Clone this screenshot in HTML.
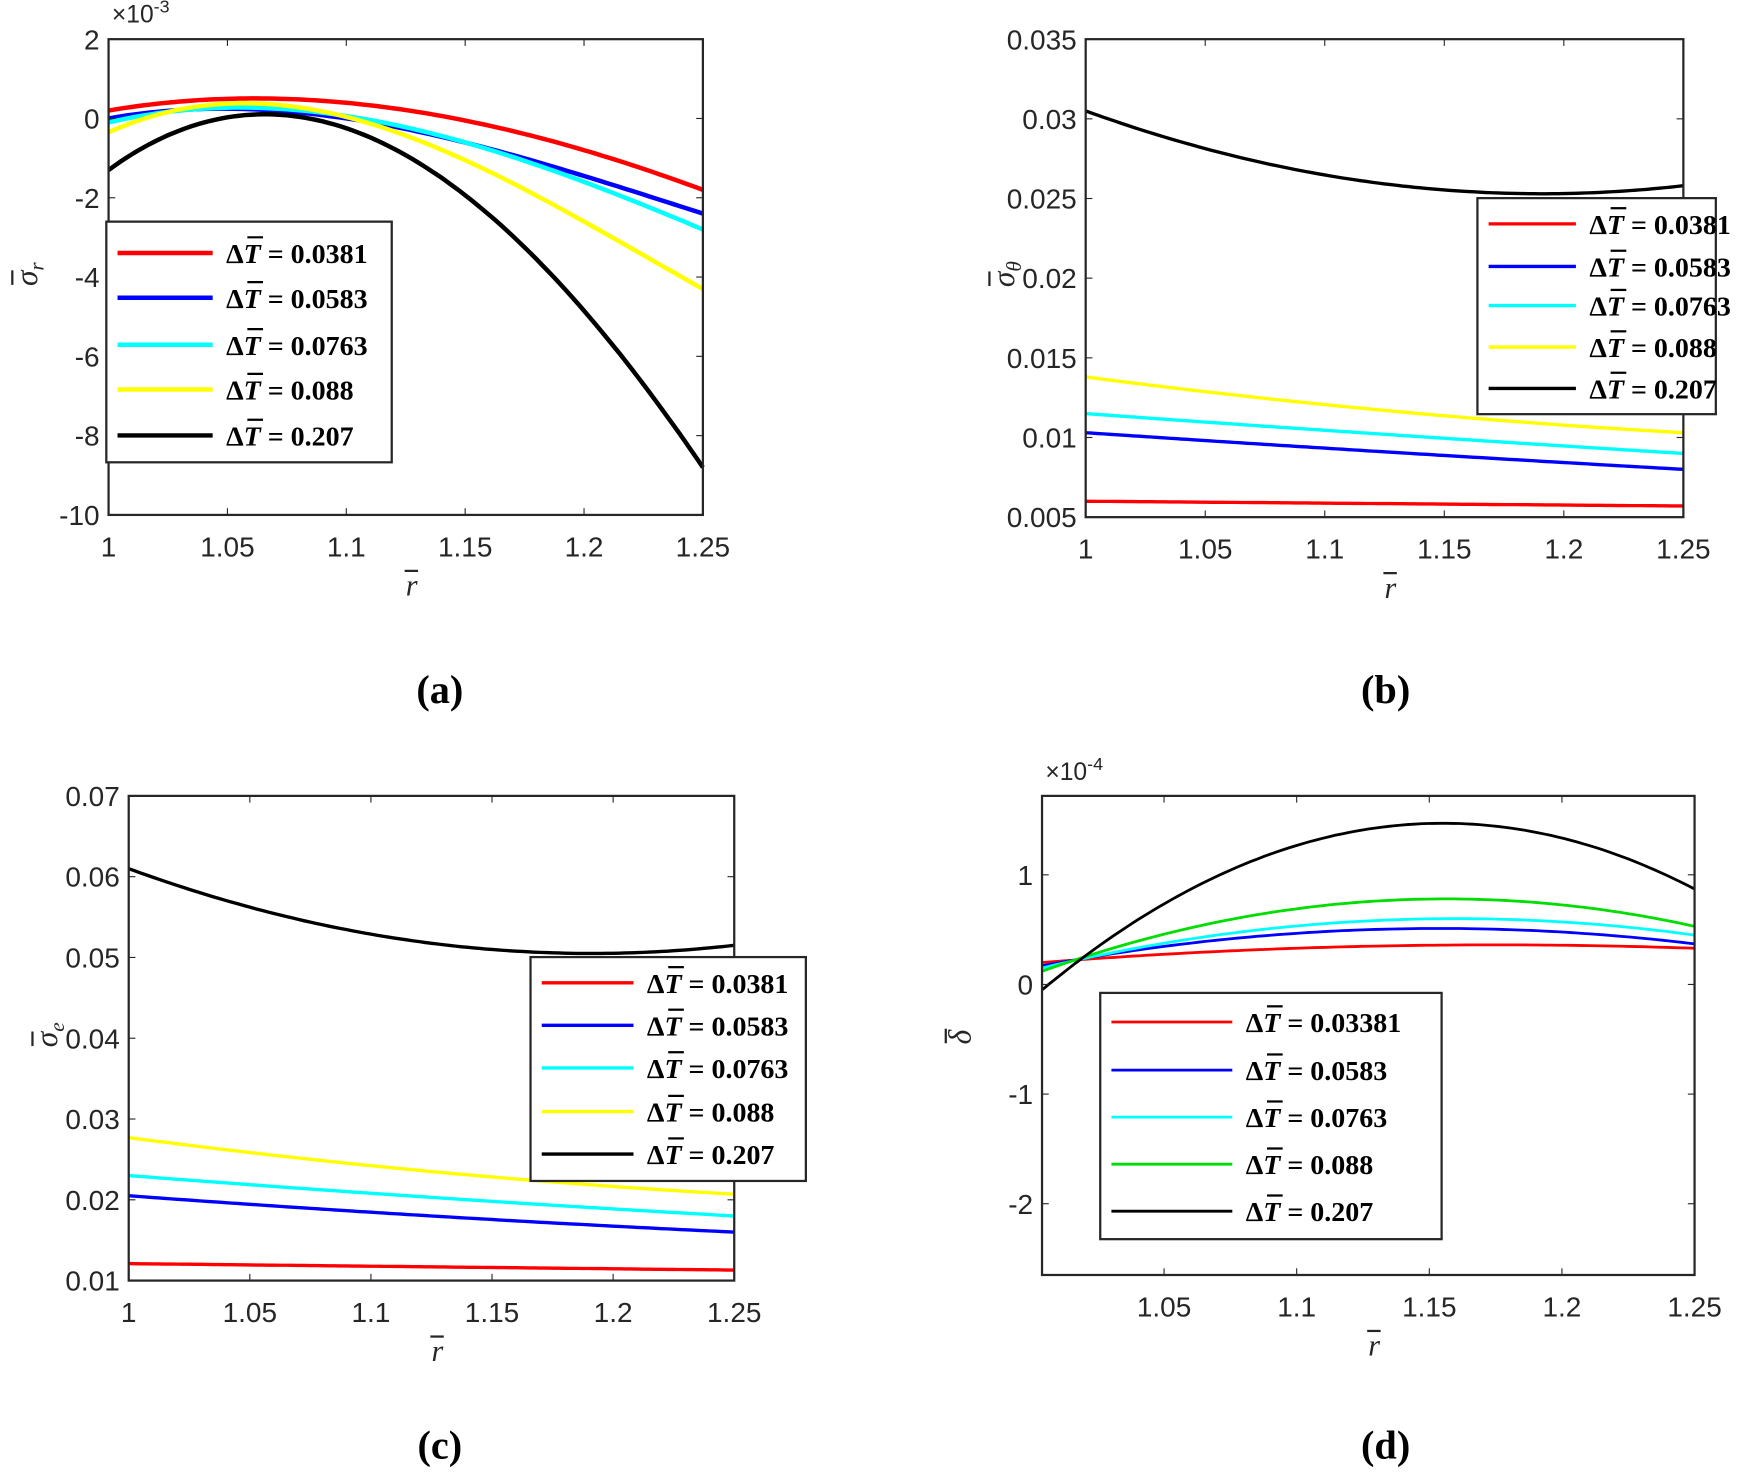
<!DOCTYPE html>
<html><head><meta charset="utf-8"><style>
html,body{margin:0;padding:0;background:#fff;}
svg{display:block}
.t{font-family:"Liberation Sans",sans-serif;font-size:25px;fill:#262626}
.l{font-family:"Liberation Serif",serif;font-size:25px;fill:#000;font-weight:bold}
.c{font-family:"Liberation Serif",serif;font-size:36px;font-weight:bold;fill:#000}
</style></head><body>
<svg id="s" width="1755" height="1472" viewBox="0 0 1568 1315" preserveAspectRatio="none" xmlns="http://www.w3.org/2000/svg"></svg>
<script>
const S=document.getElementById('s');let h='';
function lag(p){return x=>{let s=0;for(let i=0;i<p.length;i++){let t=p[i][1];for(let j=0;j<p.length;j++)if(j!=i)t*=(x-p[j][0])/(p[i][0]-p[j][0]);s+=t;}return s;}}
function panel(o){
 const X=r=>o.x0+(r-o.r0)/(o.r1-o.r0)*(o.x1-o.x0);
 const Y=v=>o.y1-(v-o.v0)/(o.v1-o.v0)*(o.y1-o.y0);
 o.curves.forEach(c=>{const f=lag(c.p);let d='';for(let i=0;i<=100;i++){const r=o.r0+(o.r1-o.r0)*i/100;d+=(i?'L':'M')+X(r).toFixed(1)+','+Y(f(r)).toFixed(1);}
  h+=`<path d="${d}" fill="none" stroke="${c.c}" stroke-width="${o.sw}"/>`;});
 h+=`<rect x="${o.x0}" y="${o.y0}" width="${o.x1-o.x0}" height="${o.y1-o.y0}" fill="none" stroke="#262626" stroke-width="2"/>`;
 o.yt.forEach(t=>{const y=Y(t[0]);h+=`<line x1="${o.x0}" x2="${o.x0+6}" y1="${y}" y2="${y}" stroke="#262626"/><line x1="${o.x1}" x2="${o.x1-6}" y1="${y}" y2="${y}" stroke="#262626"/><text class="t" x="${o.x0-8}" y="${y+9}" text-anchor="end">${t[1]}</text>`;});
 o.xt.forEach(t=>{const x=X(t);h+=`<line x1="${x}" x2="${x}" y1="${o.y1}" y2="${o.y1-6}" stroke="#262626"/><line x1="${x}" x2="${x}" y1="${o.y0}" y2="${o.y0+6}" stroke="#262626"/><text class="t" x="${x}" y="${o.y1+37}" text-anchor="middle">${t}</text>`;});
 const L=o.leg;h+=`<rect x="${L.x}" y="${L.y}" width="${L.w}" height="${L.h}" fill="#fff" stroke="#262626" stroke-width="2"/>`;
 L.e.forEach((e,i)=>{const y=L.ys[i];h+=`<line x1="${L.x+10}" x2="${L.x+L.lw}" y1="${y}" y2="${y}" stroke="${o.curves[i].c}" stroke-width="${o.sw}"/><text class="l" x="${L.x+L.lw+12}" y="${y+9}">Δ<tspan font-style="italic">T</tspan> = ${e}</text><line x1="${L.x+L.lw+31}" x2="${L.x+L.lw+45}" y1="${y-14}" y2="${y-14}" stroke="#000" stroke-width="2"/>`;});
 const cx=(o.x0+o.x1)/2;
 h+=`<text x="${cx}" y="${o.y1+72}" style="font-family:'Liberation Serif',serif;font-style:italic;font-size:27px;fill:#262626">r</text><line x1="${cx-1}" x2="${cx+11}" y1="${o.y1+50}" y2="${o.y1+50}" stroke="#262626" stroke-width="2"/>`;
 const lx=o.x0-64,ly=(o.y0+o.y1)/2;
 h+=`<g transform="translate(${lx} ${ly}) rotate(-90)"><text x="-8" y="0" style="font-family:'Liberation Serif',serif;font-style:italic;font-size:28px;fill:#262626">${o.yl}<tspan dy="6" font-size="19">${o.ys||''}</tspan></text><line x1="-7" x2="6" y1="-22" y2="-22" stroke="#262626" stroke-width="2"/></g>`;
 h+=`<text class="c" x="${o.cap[0]}" y="${o.cap[1]}" text-anchor="middle">${o.cap[2]}</text>`;
}
const C=['#f00','#00f','#0ff','#ff0','#000'];
panel({x0:97,x1:628,y0:35,y1:460,r0:1,r1:1.25,v0:-10,v1:2,sw:4,
 curves:[{c:C[0],p:[[1,0.2],[1.07,0.5],[1.2,-0.8],[1.25,-1.8]]},{c:C[1],p:[[1,0],[1.07,0.2],[1.2,-1.45],[1.25,-2.4]]},{c:C[2],p:[[1,-0.1],[1.07,0.25],[1.2,-1.6],[1.25,-2.8]]},{c:C[3],p:[[1,-0.35],[1.07,0.35],[1.2,-2.6],[1.25,-4.3]]},{c:C[4],p:[[1,-1.3],[1.07,0.1],[1.2,-4.85],[1.25,-8.8]]}],
 yt:[[2,'2'],[0,'0'],[-2,'-2'],[-4,'-4'],[-6,'-6'],[-8,'-8'],[-10,'-10']],xt:[1,1.05,1.1,1.15,1.2,1.25],
 leg:{x:95,y:198,w:255,h:215,lw:95,ys:[226,266,308,348,389],e:['0.0381','0.0583','0.0763','0.088','0.207']},yl:'σ',ys:'r',cap:[393,628,'(a)']});
panel({x0:970,x1:1504,y0:35,y1:462,r0:1,r1:1.25,v0:0.005,v1:0.035,sw:3,
 curves:[{c:C[0],p:[[1,0.006],[1.125,0.00585],[1.25,0.0057]]},{c:C[1],p:[[1,0.0103],[1.125,0.0091],[1.25,0.008]]},{c:C[2],p:[[1,0.0115],[1.125,0.0102],[1.25,0.009]]},{c:C[3],p:[[1,0.0138],[1.125,0.0117],[1.25,0.0103]]},{c:C[4],p:[[1,0.0305],[1.19,0.0253],[1.25,0.0258]]}],
 yt:[[0.035,'0.035'],[0.03,'0.03'],[0.025,'0.025'],[0.02,'0.02'],[0.015,'0.015'],[0.01,'0.01'],[0.005,'0.005']],xt:[1,1.05,1.1,1.15,1.2,1.25],
 leg:{x:1320,y:177,w:213,h:193,lw:88,ys:[200,238,273,310,347],e:['0.0381','0.0583','0.0763','0.088','0.207']},yl:'σ',ys:'θ',cap:[1238,628,'(b)']});
panel({x0:115,x1:656,y0:711,y1:1144,r0:1,r1:1.25,v0:0.01,v1:0.07,sw:3,
 curves:[{c:C[0],p:[[1,0.0121],[1.125,0.0117],[1.25,0.0113]]},{c:C[1],p:[[1,0.0205],[1.125,0.018],[1.25,0.016]]},{c:C[2],p:[[1,0.023],[1.125,0.0203],[1.25,0.018]]},{c:C[3],p:[[1,0.0277],[1.125,0.0235],[1.25,0.0207]]},{c:C[4],p:[[1,0.061],[1.19,0.0505],[1.25,0.0515]]}],
 yt:[[0.07,'0.07'],[0.06,'0.06'],[0.05,'0.05'],[0.04,'0.04'],[0.03,'0.03'],[0.02,'0.02'],[0.01,'0.01']],xt:[1,1.05,1.1,1.15,1.2,1.25],
 leg:{x:474,y:855,w:246,h:200,lw:92,ys:[878,916,954,993,1031],e:['0.0381','0.0583','0.0763','0.088','0.207']},yl:'σ',ys:'e',cap:[393,1303,'(c)']});
panel({x0:931,x1:1514,y0:711,y1:1139,r0:1.004,r1:1.25,v0:-2.65,v1:1.72,sw:2.5,
 curves:[{c:'#f00',p:[[1.004,0.2],[1.16,0.36],[1.25,0.33]]},{c:'#00f',p:[[1.004,0.17],[1.16,0.51],[1.25,0.37]]},{c:'#0ff',p:[[1.004,0.15],[1.16,0.6],[1.25,0.45]]},{c:'#0d0',p:[[1.004,0.12],[1.16,0.78],[1.25,0.53]]},{c:'#000',p:[[1.004,-0.05],[1.155,1.47],[1.25,0.87]]}],
 yt:[[1,'1'],[0,'0'],[-1,'-1'],[-2,'-2']],xt:[1.05,1.1,1.15,1.2,1.25],
 leg:{x:983,y:887,w:305,h:220,lw:118,ys:[913,956,998,1040,1082],e:['0.03381','0.0583','0.0763','0.088','0.207']},yl:'δ',ys:'',cap:[1238,1303,'(d)']});
h+=`<text class="t" x="100" y="20" style="font-size:22px">×10<tspan dy="-9" font-size="16">-3</tspan></text>`;
h+=`<text class="t" x="934" y="697" style="font-size:22px">×10<tspan dy="-9" font-size="16">-4</tspan></text>`;
S.innerHTML=h;
</script>
</body></html>
